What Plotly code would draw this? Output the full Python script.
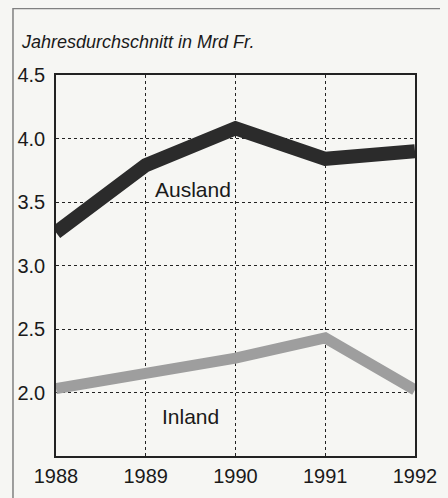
import plotly.graph_objects as go

years = [1988, 1989, 1990, 1991, 1992]
ausland = [3.26, 3.79, 4.08, 3.84, 3.90]
inland = [2.03, 2.14, 2.27, 2.43, 2.02]
y_ticks = [2.0, 2.5, 3.0, 3.5, 4.0, 4.5]
y_tick_labels = ["2.0", "2.5", "3.0", "3.5", "4.0", "4.5"]
title_text = "Jahresdurchschnitt in Mrd Fr."

bg = "#f6f6f3"
font = "Liberation Sans, Arial, sans-serif"

fig = go.Figure()
fig.add_trace(go.Scatter(x=years, y=inland, mode="lines",
                         line=dict(color="#9e9e9e", width=11),
                         showlegend=False, hoverinfo="skip"))
fig.add_trace(go.Scatter(x=years, y=ausland, mode="lines",
                         line=dict(color="#2b2b2b", width=14),
                         showlegend=False, hoverinfo="skip"))

fig.add_annotation(x=1989.53, y=3.6, text="Ausland", showarrow=False,
                   font=dict(family=font, size=21, color="#1a1a1a"))
fig.add_annotation(x=1989.5, y=1.81, text="Inland", showarrow=False,
                   font=dict(family=font, size=21, color="#1a1a1a"))
fig.add_annotation(xref="paper", yref="paper", x=-0.103, y=1.0866, xanchor="left",
                   yanchor="middle", text="<i>" + title_text + "</i>", showarrow=False,
                   font=dict(family=font, size=18, color="#1a1a1a"))

# outer frame
fig.add_shape(type="rect", xref="paper", yref="paper",
              x0=-0.1198, x1=1.0855, y0=-0.2, y1=1.1745,
              line=dict(color="#808080", width=1.5), layer="below")

fig.update_layout(
    width=440, height=490,
    margin=dict(l=48, r=33, t=67, b=42),
    paper_bgcolor=bg, plot_bgcolor=bg,
    font=dict(family=font, size=20, color="#1a1a1a"),
)
fig.update_xaxes(range=[1988, 1992], tickvals=years, ticktext=[str(y) for y in years],
                 showgrid=True, gridcolor="#222", griddash="dot", gridwidth=1,
                 showline=True, linecolor="#222", linewidth=1.5, mirror=True,
                 ticks="", zeroline=False, ticklabelstandoff=1, automargin=False)
fig.update_yaxes(range=[1.5, 4.5], tickvals=y_ticks, ticktext=y_tick_labels,
                 showgrid=True, gridcolor="#222", griddash="dot", gridwidth=1,
                 showline=True, linecolor="#222", linewidth=1.5, mirror=True,
                 ticks="", zeroline=False, ticklabelstandoff=5, automargin=False)

fig.write_html("out.html", post_script="document.body.style.background='" + bg + "';")
